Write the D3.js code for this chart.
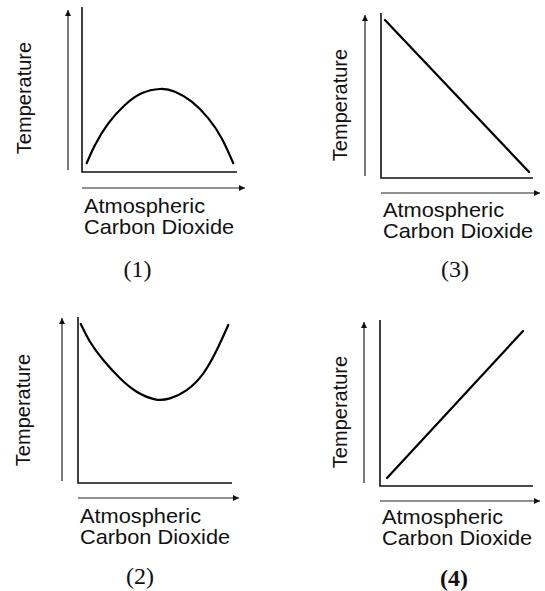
<!DOCTYPE html>
<html>
<head>
<meta charset="utf-8">
<script src="https://cdn.jsdelivr.net/npm/d3@7"></script>
<style>
  html, body { margin: 0; padding: 0; background: #fff; }
  svg { display: block; }
</style>
</head>
<body>
<svg id="chart" width="545" height="591"></svg>
<script>
// ---------- DATA (arbitrary 0–10 units) ----------
const panelLabels = ["(1)", "(2)", "(3)", "(4)"];
const xAxisLabel = ["Atmospheric", "Carbon Dioxide"];
const yAxisLabel = "Temperature";

// (1) rises then falls
const curve1X = [0.30, 0.84, 1.70, 2.77, 3.85, 5.03, 6.00, 7.08, 8.15, 9.01, 9.76];
const curve1Y = [0.53, 1.64, 2.95, 4.06, 4.77, 5.03, 4.87, 4.26, 3.25, 2.04, 0.53];
// (2) falls then rises
const curve2X = [0.18, 0.78, 1.64, 2.73, 3.81, 5.00, 5.97, 7.06, 8.14, 9.01, 9.76];
const curve2Y = [9.58, 8.51, 7.41, 6.31, 5.50, 5.04, 5.10, 5.60, 6.61, 8.01, 9.52];
// (3) straight decrease
const curve3X = [0.26, 9.74];
const curve3Y = [9.58, 0.36];
// (4) straight increase
const curve4X = [0.46, 9.35];
const curve4Y = [0.48, 9.34];

// ---------- LAYOUT ----------
const panels = [
  { label: panelLabels[0], xs: curve1X, ys: curve1Y, smooth: true,  bold: false,
    box: { x0: 82,  x1: 237, y0: 172, y1: 7 },
    yArrow: { x: 68,  y0: 170, y1: 10 }, xArrow: { y: 188, x0: 82,  x1: 245 },
    yLab: { x: 30.5, y: 98 }, xLab: { x: 84, y: 213 }, num: { x: 137.5, y: 277 } },
  { label: panelLabels[1], xs: curve2X, ys: curve2Y, smooth: true,  bold: false,
    box: { x0: 78,  x1: 232, y0: 483, y1: 317 },
    yArrow: { x: 62,  y0: 481, y1: 318 }, xArrow: { y: 498, x0: 78,  x1: 239 },
    yLab: { x: 29.5, y: 410 }, xLab: { x: 80, y: 523 }, num: { x: 140, y: 584 } },
  { label: panelLabels[2], xs: curve3X, ys: curve3Y, smooth: false, bold: false,
    box: { x0: 381, x1: 533, y0: 178, y1: 13 },
    yArrow: { x: 365, y0: 176, y1: 15 }, xArrow: { y: 193, x0: 381, x1: 540 },
    yLab: { x: 347, y: 105 }, xLab: { x: 383, y: 217 }, num: { x: 455, y: 277 } },
  { label: panelLabels[3], xs: curve4X, ys: curve4Y, smooth: false, bold: true,
    box: { x0: 380, x1: 533, y0: 486, y1: 320 },
    yArrow: { x: 364, y0: 483, y1: 322 }, xArrow: { y: 501, x0: 380, x1: 540 },
    yLab: { x: 347, y: 412 }, xLab: { x: 382, y: 524 }, num: { x: 454, y: 586 } }
];

const svg = d3.select("#chart");
const sans = "'Liberation Sans', Arial, Helvetica, sans-serif";
const serif = "'Liberation Serif', 'Times New Roman', serif";

svg.append("defs").append("marker")
  .attr("id", "arrow")
  .attr("viewBox", "0 0 10 10")
  .attr("refX", 10).attr("refY", 5)
  .attr("markerWidth", 8).attr("markerHeight", 6)
  .attr("markerUnits", "userSpaceOnUse")
  .attr("orient", "auto")
  .append("path")
  .attr("d", "M0,0 L10,5 L0,10 Z")
  .attr("fill", "#111");

panels.forEach(p => {
  const g = svg.append("g");
  const x = d3.scaleLinear().domain([0, 10]).range([p.box.x0, p.box.x1]);
  const y = d3.scaleLinear().domain([0, 10]).range([p.box.y0, p.box.y1]);

  // frame (left + bottom) drawn from scales
  g.append("path")
    .attr("d", `M${x(0)},${y(10)} L${x(0)},${y(0)} L${x(10)},${y(0)}`)
    .attr("fill", "none").attr("stroke", "#111").attr("stroke-width", 1.6);

  // arrows
  g.append("line")
    .attr("x1", p.yArrow.x).attr("y1", p.yArrow.y0)
    .attr("x2", p.yArrow.x).attr("y2", p.yArrow.y1)
    .attr("stroke", "#222").attr("stroke-width", 1.2)
    .attr("marker-end", "url(#arrow)");
  g.append("line")
    .attr("x1", p.xArrow.x0).attr("y1", p.xArrow.y)
    .attr("x2", p.xArrow.x1).attr("y2", p.xArrow.y)
    .attr("stroke", "#222").attr("stroke-width", 1.2)
    .attr("marker-end", "url(#arrow)");

  // curve
  const pts = p.xs.map((v, i) => [v, p.ys[i]]);
  const line = d3.line()
    .x(d => x(d[0])).y(d => y(d[1]))
    .curve(p.smooth ? d3.curveNatural : d3.curveLinear);
  g.append("path")
    .attr("d", line(pts))
    .attr("fill", "none").attr("stroke", "#000")
    .attr("stroke-width", 2.2).attr("stroke-linecap", "round");

  // y label
  g.append("text")
    .attr("transform", `translate(${p.yLab.x},${p.yLab.y}) rotate(-90)`)
    .attr("text-anchor", "middle")
    .attr("font-family", sans).attr("font-size", 20)
    .attr("fill", "#111")
    .text(yAxisLabel);

  // x label (two lines)
  const xl = g.append("text")
    .attr("transform", `translate(${p.xLab.x},${p.xLab.y}) scale(1.09,1)`)
    .attr("font-family", sans).attr("font-size", 20)
    .attr("fill", "#111");
  xl.append("tspan").attr("x", 0).attr("y", 0).text(xAxisLabel[0]);
  xl.append("tspan").attr("x", 0).attr("y", 21).text(xAxisLabel[1]);

  // panel number
  g.append("text")
    .attr("x", p.num.x).attr("y", p.num.y)
    .attr("text-anchor", "middle")
    .attr("font-family", serif).attr("font-size", 24)
    .attr("font-weight", p.bold ? "bold" : "normal")
    .attr("fill", "#111")
    .text(p.label);
});
</script>
</body>
</html>
